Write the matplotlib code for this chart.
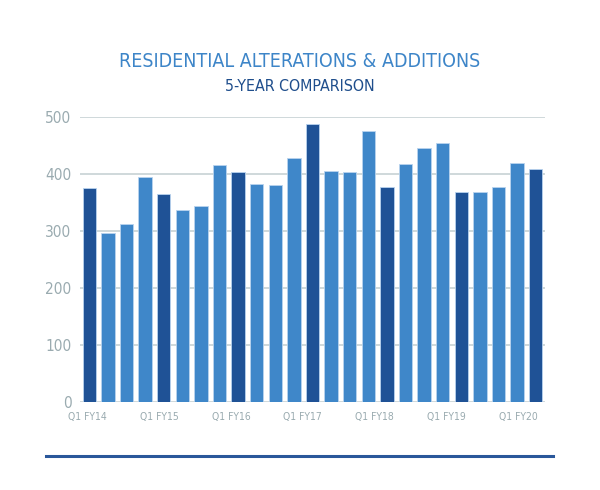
import numpy as np
import matplotlib.pyplot as plt
from matplotlib import font_manager

# 분기별 건수 (Q1 FY14 ~ Q1 FY20)
quarters = ["Q1 FY14", "Q2 FY14", "Q3 FY14", "Q4 FY14",
            "Q1 FY15", "Q2 FY15", "Q3 FY15", "Q4 FY15",
            "Q1 FY16", "Q2 FY16", "Q3 FY16", "Q4 FY16",
            "Q1 FY17", "Q2 FY17", "Q3 FY17", "Q4 FY17",
            "Q1 FY18", "Q2 FY18", "Q3 FY18", "Q4 FY18",
            "Q1 FY19", "Q2 FY19", "Q3 FY19", "Q4 FY19",
            "Q1 FY20"]
values = [376, 296, 313, 394,
          365, 336, 343, 415,
          404, 382, 381, 428,
          488, 406, 403, 476,
          377, 418, 445, 455,
          368, 368, 377, 420,
          408]
tick_labels = ["Q1 FY14", "Q1 FY15", "Q1 FY16", "Q1 FY17", "Q1 FY18", "Q1 FY19", "Q1 FY20"]
y_ticks = [0, 100, 200, 300, 400, 500]

dark = "#1f5296"
light = "#3f87c9"
grey = "#9aabb0"

# 좁은 글꼴이 있으면 사용
names = {f.name for f in font_manager.fontManager.ttflist}
condensed = [f for f in font_manager.fontManager.ttflist
             if f.name == "DejaVu Sans" and f.stretch in ("condensed", "semi-condensed", 600)]
stretch = "normal"
if "Liberation Sans Narrow" in names:
    font = ["Liberation Sans Narrow", "DejaVu Sans"]
    scale = 1.0
elif condensed:
    font = ["DejaVu Sans"]
    stretch = "condensed"
    scale = 0.85
else:
    font = ["DejaVu Sans"]
    scale = 0.72

fig = plt.figure(figsize=(6, 4.9), dpi=100)
ax = fig.add_axes([0.1333, 0.1796, 0.775, 0.5816])

x = np.arange(len(values))
colors = [dark if q.startswith("Q1") else light for q in quarters]
ax.bar(x, values, width=0.72, color=colors, edgecolor="#b9d3ee", linewidth=0.6, zorder=3)

ax.set_xlim(-0.5, len(values) - 0.5)
ax.set_ylim(0, 500)
ax.set_yticks(y_ticks)
ax.set_yticklabels([str(v) for v in y_ticks], family=font, stretch=stretch,
                   fontsize=13 * scale, color=grey)
ax.grid(axis="y", color="#cbd5d8", linewidth=1.3, zorder=0)
ax.set_axisbelow(True)

# 라벨은 막대 중심보다 약간 촘촘하게 배치됨
q1_idx = np.array([i for i, q in enumerate(quarters) if q.startswith("Q1")])
ax.set_xticks(q1_idx * 0.967 - 0.12)
ax.set_xticklabels(tick_labels, family=font, stretch=stretch, fontsize=8.8 * scale, color=grey)
ax.tick_params(length=0)
ax.tick_params(axis="y", pad=6)
ax.tick_params(axis="x", pad=7)
for s in ax.spines.values():
    s.set_visible(False)

fig.text(0.5, 0.874, "RESIDENTIAL ALTERATIONS & ADDITIONS", ha="center", va="center",
         family=font, stretch=stretch, fontsize=16.5 * scale, color="#3d85c8")
fig.text(0.5, 0.823, "5-YEAR COMPARISON", ha="center", va="center",
         family=font, stretch=stretch, fontsize=13.5 * scale, color="#1f4e8c")

# 하단 구분선
fig.add_artist(plt.Line2D([46 / 600, 553 / 600], [1 - 456 / 490] * 2,
                          color="#2a579a", linewidth=2.2, transform=fig.transFigure))

fig.savefig("out.png", dpi=100)
